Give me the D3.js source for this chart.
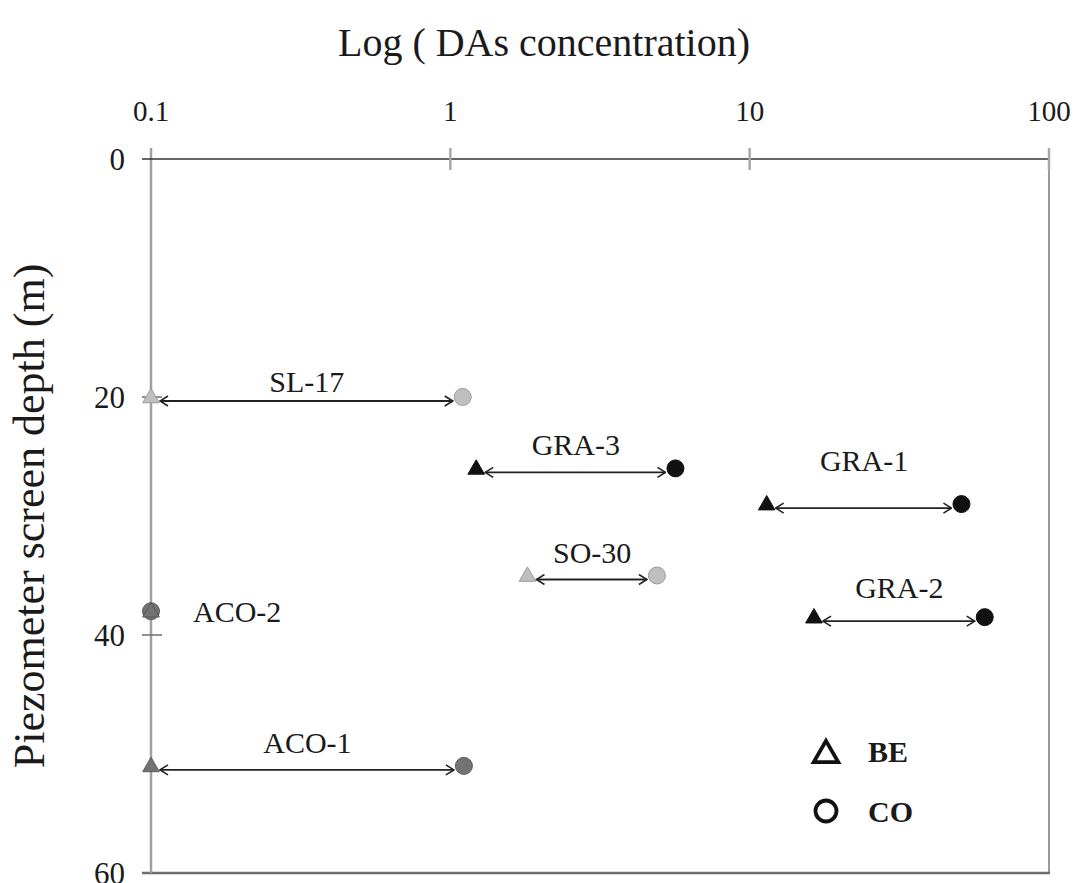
<!DOCTYPE html>
<html>
<head>
<meta charset="utf-8">
<script src="https://cdn.jsdelivr.net/npm/d3@7"></script>
<style>
  html, body { margin: 0; padding: 0; background: #fff; }
  svg { display: block; }
  text { font-family: "Liberation Serif", "Times New Roman", serif; fill: #1a1a1a; }
</style>
</head>
<body>
<svg id="chart" width="1075" height="883"></svg>
<script>
// Piezometers, their screen depth (m) and DAs concentrations (log scale)
const wells    = ["SL-17", "GRA-3", "GRA-1", "SO-30", "GRA-2", "ACO-2", "ACO-1"];
const depths   = [20, 26, 29, 35, 38.5, 38, 51];
const beValues = [0.1, 1.22, 11.4, 1.81, 16.4, 0.1, 0.1];
const coValues = [1.1, 5.65, 51, 4.9, 61, 0.1, 1.11];
const groups   = ["light", "black", "black", "light", "black", "dark", "dark"];

const xTicks = [0.1, 1, 10, 100];
const xTickLabels = ["0.1", "1", "10", "100"];
const yTicks = [0, 20, 40, 60];
const legendItems = ["BE", "CO"];

// layout
const W = 1075, H = 883;
const plot = { left: 151, right: 1049, top: 159, bottom: 873 };
const fillOf = { light: "#bfbfbf", dark: "#737373", black: "#111111" };
const strokeOf = { light: "#9a9a9a", dark: "#5a5a5a", black: "#111111" };
// vertical placement of each well's name relative to its arrow
const labelLift = { "SL-17": 5, "GRA-3": 13, "GRA-1": 33, "SO-30": 13, "GRA-2": 19, "ACO-1": 13 };

const svg = d3.select("#chart");

const x = d3.scaleLog().domain([0.1, 100]).range([plot.left, plot.right]);
const y = d3.scaleLinear().domain([0, 60]).range([plot.top, plot.bottom]);

// arrow heads (open chevrons)
const defs = svg.append("defs");
defs.append("marker")
  .attr("id", "chev")
  .attr("viewBox", "0 -6 10 12")
  .attr("refX", 9).attr("refY", 0)
  .attr("markerUnits", "userSpaceOnUse")
  .attr("markerWidth", 10).attr("markerHeight", 12)
  .attr("orient", "auto-start-reverse")
  .append("path")
  .attr("d", "M1,-5 L9,0 L1,5")
  .attr("fill", "none").attr("stroke", "#222").attr("stroke-width", 1.6);

// frame: right and bottom borders
svg.append("line")
  .attr("x1", plot.right).attr("x2", plot.right)
  .attr("y1", y(0)).attr("y2", y(60))
  .attr("stroke", "#9a9a9a").attr("stroke-width", 2);
svg.append("line")
  .attr("x1", plot.left - 9).attr("x2", plot.right + 1)
  .attr("y1", y(60)).attr("y2", y(60))
  .attr("stroke", "#6e6e6e").attr("stroke-width", 2.5);

// y axis (depth) line and ticks
svg.append("line")
  .attr("x1", x(0.1)).attr("x2", x(0.1))
  .attr("y1", y(0) - 11).attr("y2", y(60))
  .attr("stroke", "#a0a0a0").attr("stroke-width", 2.5);
svg.selectAll(".ytick").data(yTicks.slice(1, 3)).join("line")
  .attr("class", "ytick")
  .attr("x1", plot.left - 9).attr("x2", plot.left + 11)
  .attr("y1", d => y(d)).attr("y2", d => y(d))
  .attr("stroke", "#6e6e6e").attr("stroke-width", 1.5);
svg.selectAll(".ylab").data(yTicks).join("text")
  .attr("class", "ylab")
  .attr("x", plot.left - 26)
  .attr("y", d => y(d) + 11)
  .attr("text-anchor", "end")
  .attr("font-size", 31)
  .text(d => d);

// x axis along the top
svg.append("line")
  .attr("x1", plot.left - 9).attr("x2", plot.right)
  .attr("y1", y(0)).attr("y2", y(0))
  .attr("stroke", "#333").attr("stroke-width", 1.5);
svg.selectAll(".xtick").data(xTicks.slice(1)).join("line")
  .attr("class", "xtick")
  .attr("x1", d => x(d)).attr("x2", d => x(d))
  .attr("y1", y(0) - 11).attr("y2", y(0) + 11)
  .attr("stroke", "#a8a8a8").attr("stroke-width", 2.5);
svg.selectAll(".xlab").data(xTicks).join("text")
  .attr("class", "xlab")
  .attr("x", d => x(d))
  .attr("y", 121)
  .attr("text-anchor", "middle")
  .attr("font-size", 29)
  .text((d, i) => xTickLabels[i]);

// axis titles
svg.append("text")
  .attr("x", 544).attr("y", 56)
  .attr("text-anchor", "middle")
  .attr("font-size", 40)
  .text("Log ( DAs concentration)");
svg.append("text")
  .attr("transform", "translate(44,516) rotate(-90)")
  .attr("text-anchor", "middle")
  .attr("font-size", 44)
  .text("Piezometer screen depth (m)");

const rows = wells.map((w, i) => ({
  name: w, depth: depths[i], be: beValues[i], co: coValues[i], group: groups[i]
}));

// double-headed arrows from BE to CO
svg.selectAll(".span").data(rows.filter(d => d.co > d.be)).join("line")
  .attr("class", "span")
  .attr("x1", d => x(d.be) + 9).attr("x2", d => x(d.co) - 10)
  .attr("y1", d => y(d.depth) + 4).attr("y2", d => y(d.depth) + 4)
  .attr("stroke", "#222").attr("stroke-width", 1.8)
  .attr("marker-start", "url(#chev)")
  .attr("marker-end", "url(#chev)");

// CO concentrations (circles)
svg.selectAll(".co").data(rows).join("circle")
  .attr("class", "co")
  .attr("cx", d => x(d.co)).attr("cy", d => y(d.depth))
  .attr("r", 8.5)
  .attr("fill", d => fillOf[d.group])
  .attr("stroke", d => strokeOf[d.group]).attr("stroke-width", 1);

// BE concentrations (triangles)
const tri = d3.symbol().type(d3.symbolTriangle).size(120);
svg.selectAll(".be").data(rows).join("path")
  .attr("class", "be")
  .attr("d", tri)
  .attr("transform", d => `translate(${x(d.be)},${y(d.depth) + 1})`)
  .attr("fill", d => fillOf[d.group])
  .attr("stroke", d => strokeOf[d.group]).attr("stroke-width", 1);

// well names
svg.selectAll(".well").data(rows).join("text")
  .attr("class", "well")
  .attr("font-size", 30)
  .attr("text-anchor", d => d.co > d.be ? "middle" : "start")
  .attr("x", d => d.co > d.be ? (x(d.be) + x(d.co)) / 2 : x(d.be) + 42)
  .attr("y", d => d.co > d.be ? y(d.depth) - labelLift[d.name] : y(d.depth) + 11)
  .text(d => d.name);

// legend
const legend = svg.append("g").attr("transform", "translate(826,0)");
legend.append("path")
  .attr("d", d3.symbol().type(d3.symbolTriangle).size(260))
  .attr("transform", "translate(0,755)")
  .attr("fill", "none").attr("stroke", "#111").attr("stroke-width", 3.8)
  .attr("stroke-linejoin", "miter");
legend.append("circle")
  .attr("cx", 0).attr("cy", 811).attr("r", 10.5)
  .attr("fill", "none").attr("stroke", "#111").attr("stroke-width", 3.8);
legend.selectAll(".ltxt").data(legendItems).join("text")
  .attr("class", "ltxt")
  .attr("x", 42)
  .attr("y", (d, i) => 762 + i * 60)
  .attr("font-size", 30)
  .attr("font-weight", "bold")
  .text(d => d);
</script>
</body>
</html>
